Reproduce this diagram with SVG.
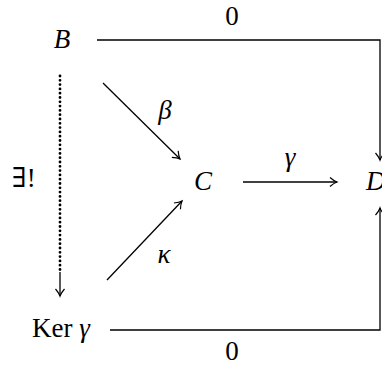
<svg xmlns="http://www.w3.org/2000/svg" width="382" height="365" viewBox="0 0 382 365">
<defs>
<style>
text{font-family:"Liberation Serif","DejaVu Serif",serif;font-size:27px;fill:#000}
.it{font-style:italic}
.ln{fill:none;stroke:#000;stroke-width:1.3}
.dot{fill:none;stroke:#000;stroke-width:2.8;stroke-linecap:round;stroke-dasharray:0 4.3}
</style>
<marker id="ah" viewBox="-10 -6 12 12" refX="0" refY="0" markerWidth="12" markerHeight="12" markerUnits="userSpaceOnUse" orient="auto">
<path d="M-7,-4.5 Q-3,-1 0,0 Q-3,1 -7,4.5" fill="none" stroke="#000" stroke-width="1.2"/>
</marker>
</defs>
<rect width="382" height="365" fill="#fff"/>
<g id="connectors">
<path class="ln" d="M97,40 H380 V160" marker-end="url(#ah)"/>
<path class="ln" d="M110,330 H380 V208" marker-end="url(#ah)"/>
<path class="ln" d="M103,83 L180,159" marker-end="url(#ah)"/>
<path class="ln" d="M107,280 L182,201" marker-end="url(#ah)"/>
<path class="ln" d="M243,182 L337,182" marker-end="url(#ah)"/>
<path class="dot" d="M60,76 V270"/>
<path class="ln" d="M60,272 V296" marker-end="url(#ah)"/>
<text x="232" y="25" text-anchor="middle" font-size="25">0</text>
<text x="232" y="360" text-anchor="middle" font-size="25">0</text>
<text class="it" x="165" y="119" text-anchor="middle">β</text>
<text class="it" x="164" y="263" text-anchor="middle">κ</text>
<text class="it" x="290" y="166" text-anchor="middle">γ</text>
<text x="12" y="187" font-family="DejaVu Sans" font-size="23">∃!</text>
</g>
<g id="B"><text class="it" x="62" y="48" text-anchor="middle">B</text></g>
<g id="C"><text class="it" x="203" y="190" text-anchor="middle">C</text></g>
<g id="D"><text class="it" x="366" y="190">D</text></g>
<g id="Ker"><text x="32" y="337">Ker <tspan class="it">γ</tspan></text></g>
</svg>
